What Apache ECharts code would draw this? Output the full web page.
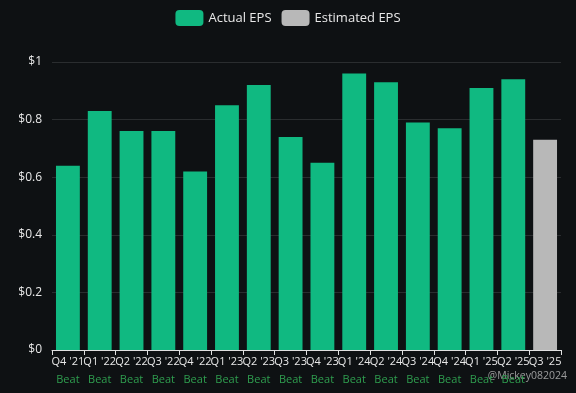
<!DOCTYPE html>
<html><head><meta charset="utf-8">
<script src="https://cdn.jsdelivr.net/npm/echarts@6/dist/echarts.min.js"></script>
<style>html,body{margin:0;padding:0;background:#0e1113;}#c{width:576px;height:393px;}</style>
</head><body><div id="c"></div>
<script>
const categories = ["Q4 '21","Q1 '22","Q2 '22","Q3 '22","Q4 '22","Q1 '23","Q2 '23","Q3 '23","Q4 '23","Q1 '24","Q2 '24","Q3 '24","Q4 '24","Q1 '25","Q2 '25","Q3 '25"];
const actualEPS = [0.64,0.83,0.76,0.76,0.62,0.85,0.92,0.74,0.65,0.96,0.93,0.79,0.77,0.91,0.94,null];
const estimatedEPS = [null,null,null,null,null,null,null,null,null,null,null,null,null,null,null,0.73];
const results = ["Beat","Beat","Beat","Beat","Beat","Beat","Beat","Beat","Beat","Beat","Beat","Beat","Beat","Beat","Beat",""];
const yTicks = [0,0.2,0.4,0.6,0.8,1];

const chart = echarts.init(document.getElementById('c'));
chart.setOption({
  backgroundColor: '#0e1113',
  textStyle: {fontFamily: 'Open Sans, sans-serif'},
  legend: {
    top: 5, left: 'center', itemWidth: 28, itemHeight: 16, itemGap: 10,
    icon: 'roundRect',
    textStyle: {color: '#e8e8e8', fontSize: 13},
    data: ['Actual EPS','Estimated EPS']
  },
  grid: {left: 52, right: 15, top: 62, bottom: 43},
  xAxis: {
    type: 'category', data: categories,
    axisLine: {lineStyle: {color: '#e0e0e0'}},
    axisTick: {show: true, alignWithLabel: false, lineStyle: {color: '#e0e0e0'}},
    axisLabel: {
      interval: 0, color: '#e8e8e8', fontSize: 11, margin: 6,
      formatter: (v, i) => v + '\n{b|' + (results[i] || ' ') + '}',
      rich: {b: {color: '#2f9e4f', fontSize: 11, padding: [7,0,0,0]}}
    }
  },
  yAxis: {
    type: 'value', min: 0, max: 1, interval: 0.2,
    axisLabel: {color: '#e8e8e8', fontSize: 12, margin: 10, formatter: v => '$' + v},
    splitLine: {lineStyle: {color: '#2a2d2f'}},
    axisLine: {show: false}, axisTick: {show: false}
  },
  series: [
    {name: 'Actual EPS', type: 'bar', stack: 'eps', data: actualEPS, barCategoryGap: '25%', itemStyle: {color: '#10b981'}},
    {name: 'Estimated EPS', type: 'bar', stack: 'eps', data: estimatedEPS, itemStyle: {color: '#b8b8b8'}}
  ],
  graphic: [
    {type: 'text', right: 9, bottom: 11, style: {text: '@Mickey082024', fill: 'rgba(200,200,200,0.75)', font: '10.5px Open Sans, sans-serif'}}
  ]
});
</script></body></html>
